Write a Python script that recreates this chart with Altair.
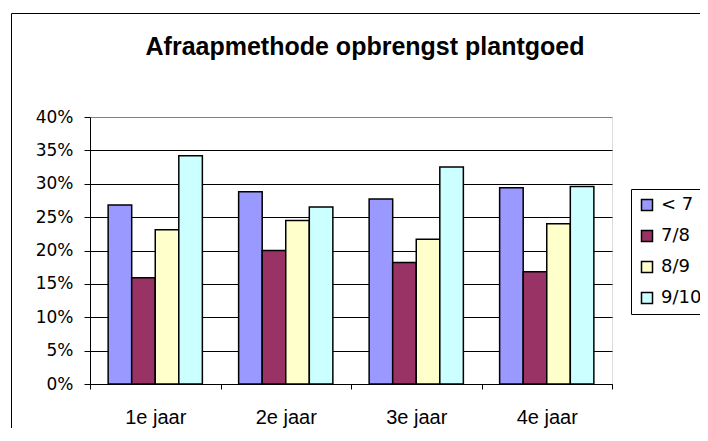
import altair as alt
import pandas as pd

years = ["1e jaar", "2e jaar", "3e jaar", "4e jaar"]
sizes = ["< 7", "7/8", "8/9", "9/10"]
colors = ["#9999FF", "#993366", "#FFFFCC", "#CCFFFF"]
v_lt7 = [0.268, 0.288, 0.277, 0.294]
v_78 = [0.159, 0.200, 0.182, 0.168]
v_89 = [0.231, 0.245, 0.217, 0.240]
v_910 = [0.342, 0.265, 0.325, 0.296]
y_ticks = [0, 0.05, 0.10, 0.15, 0.20, 0.25, 0.30, 0.35, 0.40]

series = [v_lt7, v_78, v_89, v_910]
rows = []
for s, vals in zip(sizes, series):
    for yr, v in zip(years, vals):
        rows.append({"jaar": yr, "maat": s, "waarde": v})
df = pd.DataFrame(rows)

W, H = 522, 267
PL, PT, PR, PB = 82, 109, 88, 44

bars = alt.Chart(df).mark_bar(stroke="black", strokeWidth=1.5).encode(
    x=alt.X("jaar:N", sort=years, title=None,
            scale=alt.Scale(paddingInner=0, paddingOuter=0),
            axis=alt.Axis(labelAngle=0, tickBand="extent", tickSize=5,
                          domainColor="black", tickColor="black",
                          labelFont="Liberation Sans", labelFontSize=20,
                          labelColor="black", labelBaseline="alphabetic",
                          labelPadding=34, grid=False)),
    xOffset=alt.XOffset("maat:N", sort=sizes,
                        scale=alt.Scale(paddingInner=0, paddingOuter=0.77)),
    y=alt.Y("waarde:Q", title=None,
            scale=alt.Scale(domain=[0, 0.4], nice=False),
            axis=alt.Axis(values=y_ticks, format=".0%", tickSize=6,
                          domainColor="black", tickColor="black",
                          gridColor={"condition": {"test": "datum.value >= 0.4", "value": "#808080"},
                                     "value": "black"},
                          gridOpacity=1, gridWidth=1,
                          labelFont="DejaVu Sans", labelFontSize=17,
                          labelColor="black", labelPadding=11)),
    color=alt.Color("maat:N", sort=sizes,
                    scale=alt.Scale(domain=sizes, range=colors),
                    legend=alt.Legend(title=None, orient="none", legendX=541, legendY=72,
                                      symbolType="square", symbolSize=121,
                                      symbolStrokeColor="black", symbolStrokeWidth=1.5,
                                      symbolOpacity=1,
                                      labelFont="DejaVu Sans", labelFontSize=18,
                                      labelColor="black", labelOffset=5,
                                      labelExpr="datum.label == '< 7' ? '\u00a0< 7' : datum.label",
                                      strokeColor="black", fillColor="white",
                                      padding=7, rowPadding=13, cornerRadius=0)),
)

one = pd.DataFrame({"a": [0]})
frame_left = alt.Chart(one).mark_rule(color="black", strokeWidth=1).encode(
    x=alt.value(-78.5), y=alt.value(-103.5), y2=alt.value(H + PB))
frame_top = alt.Chart(one).mark_rule(color="black", strokeWidth=1).encode(
    x=alt.value(-78.5), x2=alt.value(W + PR), y=alt.value(-103.5))

chart = alt.layer(bars, frame_left, frame_top).properties(
    width=W, height=H,
    autosize=alt.AutoSizeParams(type="none"),
    padding={"left": PL, "top": PT, "right": PR, "bottom": PB},
    title=alt.TitleParams("Afraapmethode opbrengst plantgoed",
                          font="Liberation Sans", fontSize=25, fontWeight="bold",
                          color="black", anchor="middle", dx=14, offset=-67,
                          baseline="alphabetic"),
).configure_view(fill="#C0C0C0", stroke="#808080", strokeWidth=1).configure(background="white")

chart.save("out.html", embed_options={"renderer": "svg", "actions": False})
